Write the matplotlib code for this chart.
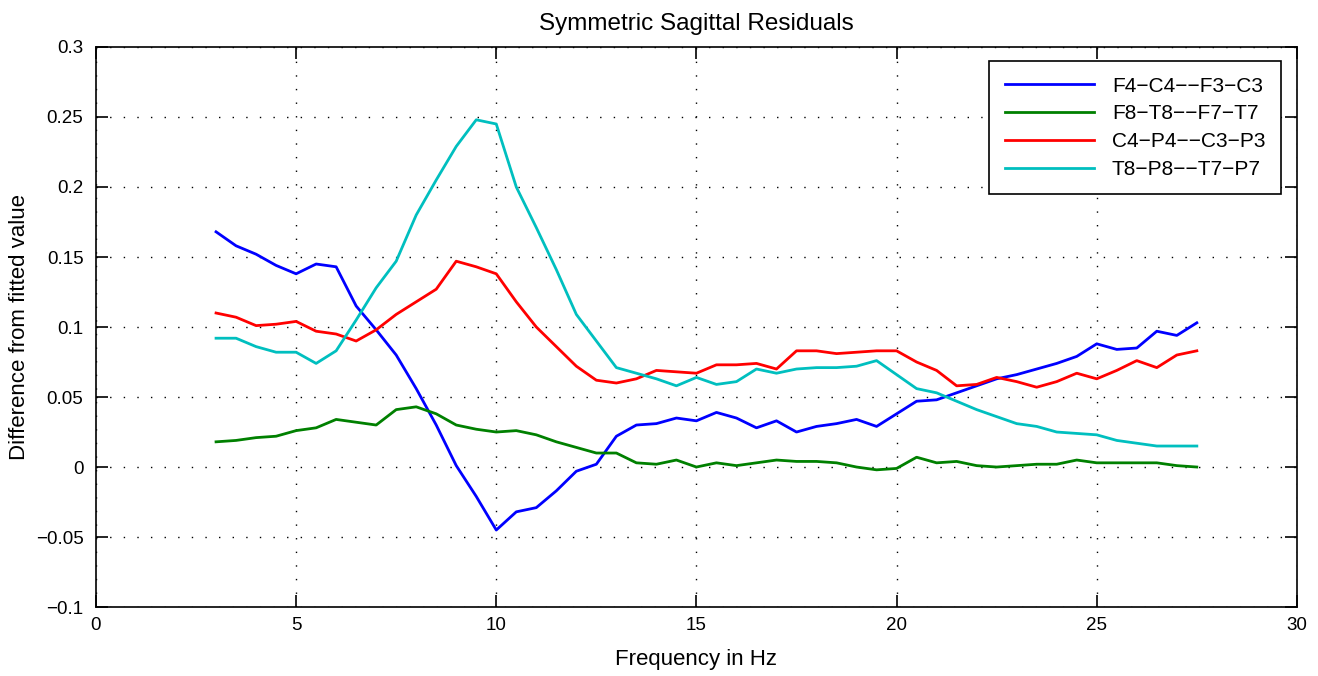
import numpy as np
import matplotlib
matplotlib.use("Agg")
import matplotlib.pyplot as plt

# frequency axis (Hz)
freq = np.arange(3.0, 27.51, 0.5)

# residuals
f4c4_f3c3 = [0.168, 0.158, 0.152, 0.144, 0.138, 0.145, 0.143, 0.115, 0.098, 0.080,
             0.056, 0.030, 0.001, -0.021, -0.045, -0.032, -0.029, -0.017, -0.003, 0.002,
             0.022, 0.030, 0.031, 0.035, 0.033, 0.039, 0.035, 0.028, 0.033, 0.025,
             0.029, 0.031, 0.034, 0.029, 0.038, 0.047, 0.048, 0.053, 0.058, 0.063,
             0.066, 0.070, 0.074, 0.079, 0.088, 0.084, 0.085, 0.097, 0.094, 0.103]
f8t8_f7t7 = [0.018, 0.019, 0.021, 0.022, 0.026, 0.028, 0.034, 0.032, 0.030, 0.041,
             0.043, 0.038, 0.030, 0.027, 0.025, 0.026, 0.023, 0.018, 0.014, 0.010,
             0.010, 0.003, 0.002, 0.005, 0.000, 0.003, 0.001, 0.003, 0.005, 0.004,
             0.004, 0.003, 0.000, -0.002, -0.001, 0.007, 0.003, 0.004, 0.001, 0.000,
             0.001, 0.002, 0.002, 0.005, 0.003, 0.003, 0.003, 0.003, 0.001, 0.000]
c4p4_c3p3 = [0.110, 0.107, 0.101, 0.102, 0.104, 0.097, 0.095, 0.090, 0.098, 0.109,
             0.118, 0.127, 0.147, 0.143, 0.138, 0.118, 0.100, 0.086, 0.072, 0.062,
             0.060, 0.063, 0.069, 0.068, 0.067, 0.073, 0.073, 0.074, 0.070, 0.083,
             0.083, 0.081, 0.082, 0.083, 0.083, 0.075, 0.069, 0.058, 0.059, 0.064,
             0.061, 0.057, 0.061, 0.067, 0.063, 0.069, 0.076, 0.071, 0.080, 0.083]
t8p8_t7p7 = [0.092, 0.092, 0.086, 0.082, 0.082, 0.074, 0.083, 0.105, 0.128, 0.147,
             0.180, 0.205, 0.229, 0.248, 0.245, 0.200, 0.171, 0.141, 0.109, 0.090,
             0.071, 0.067, 0.063, 0.058, 0.064, 0.059, 0.061, 0.070, 0.067, 0.070,
             0.071, 0.071, 0.072, 0.076, 0.066, 0.056, 0.053, 0.047, 0.041, 0.036,
             0.031, 0.029, 0.025, 0.024, 0.023, 0.019, 0.017, 0.015, 0.015, 0.015]

labels = ["F4\u2212C4\u2212\u2212F3\u2212C3", "F8\u2212T8\u2212\u2212F7\u2212T7",
          "C4\u2212P4\u2212\u2212C3\u2212P3", "T8\u2212P8\u2212\u2212T7\u2212P7"]
colors = ["#0000ff", "#008000", "#ff0000", "#00bfbf"]

plt.rcParams['font.family'] = ['Liberation Sans', 'DejaVu Sans']
plt.rcParams['lines.scale_dashes'] = False

fig = plt.figure(figsize=(13.18, 6.76), dpi=100)
ax = fig.add_axes([0.0728, 0.102, 0.9112, 0.8285])

for y, lab, c in zip([f4c4_f3c3, f8t8_f7t7, c4p4_c3p3, t8p8_t7p7], labels, colors):
    ax.plot(freq, y, color=c, lw=2.0, label=lab)

ax.set_xlim(0, 30)
ax.set_ylim(-0.1, 0.3)
ax.set_xticks(np.arange(0, 31, 5))
ax.set_yticks(np.arange(-0.1, 0.301, 0.05))
ax.set_yticklabels(["\u22120.1", "\u22120.05", "0", "0.05", "0.1", "0.15", "0.2", "0.25", "0.3"])
ax.grid(True, color="black", linestyle=(0, (1.0, 8.8)), lw=1.0)
ax.tick_params(direction="in", top=True, right=True, length=8.5, width=1.2,
               labelsize=13.5)
ax.tick_params(axis="x", pad=7)
ax.tick_params(axis="y", pad=9)
for s in ax.spines.values():
    s.set_linewidth(1.2)

ax.set_xlabel("Frequency in Hz", fontsize=16, labelpad=11)
ax.set_ylabel("Difference from fitted value", fontsize=16, labelpad=4)
ax.set_title("Symmetric Sagittal Residuals", fontsize=17.5, pad=12)

leg = ax.legend(loc="upper right", bbox_to_anchor=(0.9867, 0.975), fontsize=15,
                fancybox=False, framealpha=1, edgecolor="black", borderpad=0.75,
                handlelength=4.3, handletextpad=0.85, labelspacing=0.42,
                borderaxespad=0)
leg.get_frame().set_linewidth(1.2)

plt.savefig("out.png", dpi=100)
